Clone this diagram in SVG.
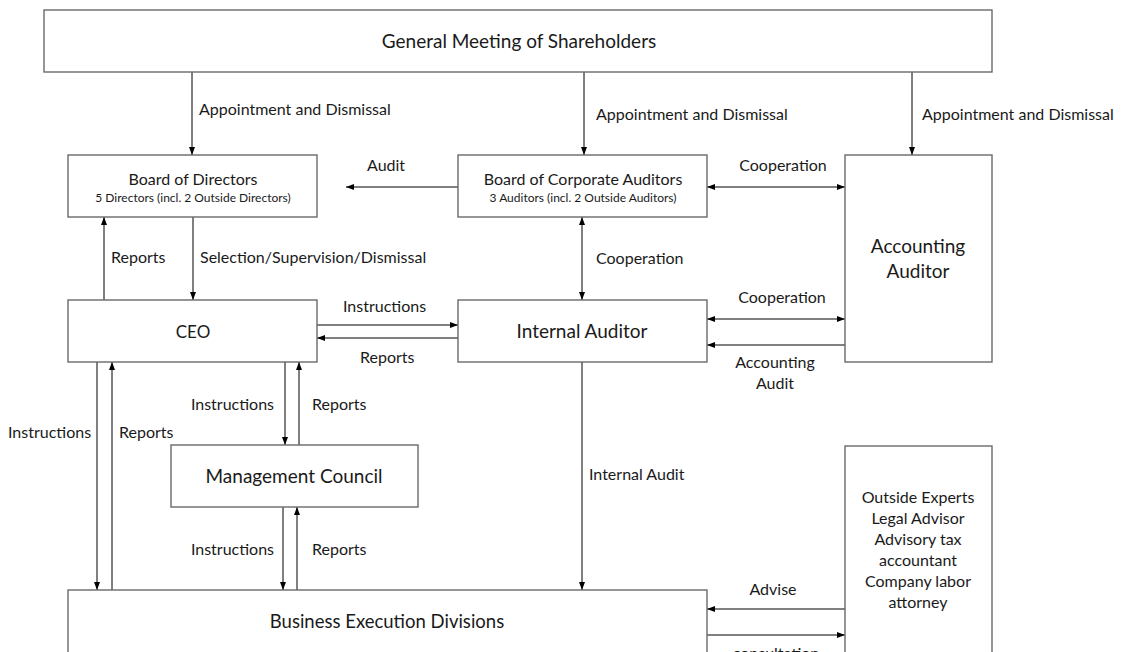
<svg xmlns="http://www.w3.org/2000/svg" width="1121" height="652" viewBox="0 0 1121 652">
<defs>
<marker id="ah" viewBox="0 0 8 6" refX="8" refY="3" markerWidth="8" markerHeight="6" markerUnits="userSpaceOnUse" orient="auto-start-reverse">
<path d="M0,0 L8,3 L0,6 z" fill="#000"/>
</marker>
<style>
.box{fill:#fff;stroke:#6a6a6a;stroke-width:1.4}
.t{font-family:Lato,"Liberation Sans",sans-serif;fill:#1a1a1a;text-anchor:middle}
.big{font-size:19px}
.mid{font-size:16px}
.sm{font-size:12px}
.lbl{font-family:Lato,"Liberation Sans",sans-serif;fill:#1a1a1a;font-size:16px}
.c{text-anchor:middle}
.e{text-anchor:end}
.ln{stroke:#000;stroke-width:1;fill:none;marker-end:url(#ah)}
.dbl{marker-start:url(#ah)}
</style>
</defs>
<rect width="1121" height="652" fill="#fff"/>
<g id="connectors">
<line class="ln" x1="192" y1="72" x2="192" y2="155"/>
<line class="ln" x1="584" y1="72" x2="584" y2="155"/>
<line class="ln" x1="912" y1="72" x2="912" y2="155"/>
<line class="ln" x1="458" y1="187" x2="346" y2="187"/>
<line class="ln dbl" x1="707" y1="187" x2="845" y2="187"/>
<line class="ln" x1="104" y1="300" x2="104" y2="217"/>
<line class="ln" x1="193" y1="217" x2="193" y2="300"/>
<line class="ln dbl" x1="582" y1="217" x2="582" y2="300"/>
<line class="ln" x1="317" y1="325" x2="458" y2="325"/>
<line class="ln" x1="458" y1="338" x2="317" y2="338"/>
<line class="ln dbl" x1="707" y1="319" x2="845" y2="319"/>
<line class="ln" x1="845" y1="345" x2="707" y2="345"/>
<line class="ln" x1="97" y1="362" x2="97" y2="590"/>
<line class="ln" x1="112" y1="590" x2="112" y2="362"/>
<line class="ln" x1="285" y1="362" x2="285" y2="445"/>
<line class="ln" x1="299" y1="445" x2="299" y2="362"/>
<line class="ln" x1="283" y1="507" x2="283" y2="590"/>
<line class="ln" x1="297" y1="590" x2="297" y2="507"/>
<line class="ln" x1="582" y1="362" x2="582" y2="590"/>
<line class="ln" x1="845" y1="609" x2="707" y2="609"/>
<line class="ln" x1="707" y1="635" x2="845" y2="635"/>
<g id="labels">
<text class="lbl" x="199" y="115">Appointment and Dismissal</text>
<text class="lbl" x="596" y="120">Appointment and Dismissal</text>
<text class="lbl" x="922" y="120">Appointment and Dismissal</text>
<text class="lbl" x="367" y="171">Audit</text>
<text class="lbl c" x="783" y="171">Cooperation</text>
<text class="lbl" x="111" y="263">Reports</text>
<text class="lbl" x="200" y="263">Selection/Supervision/Dismissal</text>
<text class="lbl" x="596" y="264">Cooperation</text>
<text class="lbl" x="343" y="312">Instructions</text>
<text class="lbl" x="360" y="363">Reports</text>
<text class="lbl c" x="782" y="303">Cooperation</text>
<text class="lbl c" x="775" y="368">Accounting</text>
<text class="lbl c" x="775" y="389">Audit</text>
<text class="lbl" x="8" y="438">Instructions</text>
<text class="lbl" x="119" y="438">Reports</text>
<text class="lbl e" x="274" y="410">Instructions</text>
<text class="lbl" x="312" y="410">Reports</text>
<text class="lbl e" x="274" y="555">Instructions</text>
<text class="lbl" x="312" y="555">Reports</text>
<text class="lbl" x="589" y="480">Internal Audit</text>
<text class="lbl c" x="773" y="595">Advise</text>
<text class="lbl c" x="776" y="659">consultation</text>
</g>
</g>
<g id="gm">
<rect class="box" x="44" y="10" width="948" height="62"/>
<text class="t big" x="519" y="48">General Meeting of Shareholders</text>
</g>
<g id="bod">
<rect class="box" x="68" y="155" width="249" height="62"/>
<text class="t mid" x="193" y="185">Board of Directors</text>
<text class="t sm" x="193" y="202">5 Directors (incl. 2 Outside Directors)</text>
</g>
<g id="bca">
<rect class="box" x="458" y="155" width="249" height="62"/>
<text class="t mid" x="583" y="185">Board of Corporate Auditors</text>
<text class="t sm" x="583" y="202">3 Auditors (incl. 2 Outside Auditors)</text>
</g>
<g id="aa">
<rect class="box" x="845" y="155" width="147" height="207"/>
<text class="t big" x="918" y="253">Accounting</text>
<text class="t big" x="918" y="278">Auditor</text>
</g>
<g id="ceo">
<rect class="box" x="68" y="300" width="249" height="62"/>
<text class="t" font-size="17" x="193" y="338">CEO</text>
</g>
<g id="ia">
<rect class="box" x="458" y="300" width="249" height="62"/>
<text class="t big" x="582" y="338">Internal Auditor</text>
</g>
<g id="mc">
<rect class="box" x="171" y="445" width="247" height="62"/>
<text class="t big" x="294" y="483">Management Council</text>
</g>
<g id="bed">
<rect class="box" x="68" y="590" width="639" height="80"/>
<text class="t" font-size="18.5" x="387" y="628">Business Execution Divisions</text>
</g>
<g id="oe">
<rect class="box" x="845" y="446" width="147" height="230"/>
<text class="t mid" x="918" y="503">Outside Experts</text>
<text class="t mid" x="918" y="524">Legal Advisor</text>
<text class="t mid" x="918" y="545">Advisory tax</text>
<text class="t mid" x="918" y="566">accountant</text>
<text class="t mid" x="918" y="587">Company labor</text>
<text class="t mid" x="918" y="608">attorney</text>
</g>
</svg>
